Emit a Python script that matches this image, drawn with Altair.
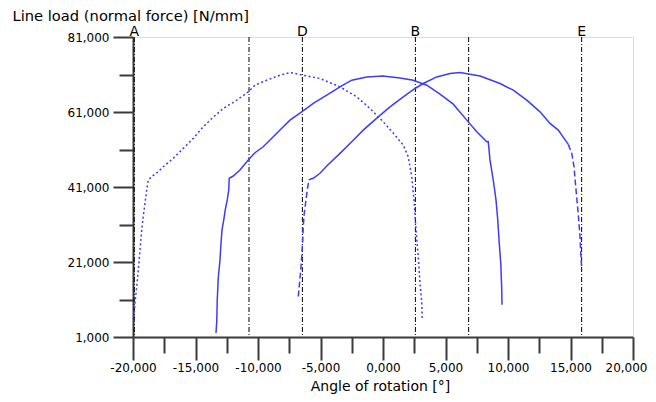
import altair as alt
import pandas as pd

# ---- Data ----
# Curve 1 (dotted)
DOT_X = [-19920, -19920, -19840, -19700, -19575, -19440, -19300, -19180, -19040, -18900,
         -18780, -18500, -18000, -17580, -16780, -15980, -15180, -14500, -13840, -12780,
         -11700, -10780, -10240, -9300, -8240, -7440, -6380, -5040, -3440, -2100,
         -1040, 20, 820, 1620, 2020, 2300, 2480, 2640, 2820, 2960, 3100, 3140]
DOT_Y = [5100, 6500, 10140, 14480, 18920, 24240, 29560, 33100, 36750, 40210,
         42870, 43800, 45000, 46410, 48640, 51300, 53960, 56630, 58830, 61950,
         64160, 66360, 68150, 69480, 70810, 71530, 70810, 69930, 67700, 65030,
         61950, 58380, 55370, 52180, 49070, 43750, 37550, 29560, 22460, 15460, 10140, 5610]

# Curve 2 (solid)
SOL_X = [-13360, -13300, -13260, -13180, -13040, -12960, -12880, -12740, -12620, -12460,
         -12340, -12300, -11980, -11440, -10780, -10240, -9580, -8780, -7980, -7440,
         -6500, -5580, -4500, -3440, -2500, -1300, -20, 1360, 2420, 3500,
         4560, 5620, 6700, 7500, 8300, 8420, 8560, 8820, 9040, 9180,
         9300, 9420, 9500, 9520]
SOL_Y = [2080, 5160, 10940, 16710, 21580, 26020, 29560, 32220, 34880, 37550,
         40210, 43320, 43930, 45530, 48190, 50130, 51730, 54390, 57050, 58830,
         61040, 63280, 65490, 67700, 69480, 70360, 70620, 70090, 69480, 68150,
         65750, 63090, 58830, 55720, 53060, 53110, 48190, 42870, 37550, 32220,
         26020, 20700, 13600, 9600]

# Curve 3 (dashed ends, solid arc)
RISE_X = [-6780, -6700, -6580, -6500, -6420, -6380, -6300, -6160, -6060, -5920, -5840]
RISE_Y = [11810, 14480, 18920, 22460, 26900, 30440, 34010, 37550, 40210, 42870, 43050]
ARC_X = [-5840, -5580, -5040, -4500, -3440, -2500, -1580, -380, 560, 1620,
         2560, 3220, 4300, 5360, 6160, 6960, 7760, 8300, 9360, 10420,
         11500, 12560, 13360, 14020, 14820]
ARC_Y = [43050, 43320, 44650, 46590, 49970, 53060, 56170, 59710, 62370, 65030,
         67270, 68600, 70360, 71260, 71530, 71070, 70620, 69930, 68600, 66820,
         64160, 61040, 57960, 56170, 52370]
FALL_X = [14820, 15100, 15280, 15420, 15540, 15660, 15760, 15820, 15900]
FALL_Y = [52370, 50050, 46410, 41090, 36670, 32220, 27780, 23360, 18920]

# Vertical reference lines
REF_X = [-19900, -10720, -6450, 2590, 6850, 15890]
REF_LABELS = ["A", "", "D", "B", "", "E"]

X_MAJOR = list(range(-20000, 20001, 5000))
X_MINOR = list(range(-17500, 20000, 5000))
Y_MAJOR = list(range(1000, 81001, 20000))
Y_MINOR = list(range(11000, 81000, 20000))


def frame(xs, ys):
    return pd.DataFrame({"angle": xs, "load": ys, "i": list(range(len(xs)))})


FONT = "DejaVu Sans"
BLUE = "#3c3cff"
AX = "#3a3a3a"

x_scale = alt.Scale(domain=[-20000, 20000], nice=False, zero=False)
y_scale = alt.Scale(domain=[1000, 81000], nice=False, zero=False)

x_major = alt.Axis(
    orient="bottom", values=X_MAJOR, grid=False,
    labelExpr="datum.value == 0 ? '0,000' : replace(format(datum.value, ','), '\u2212', '-')",
    labelOffset={"condition": {"test": "datum.value >= 20000", "value": -7}, "value": 0},
    tickSize=23, tickWidth=2, domainWidth=2, tickColor=AX, domainColor=AX,
    labelFont=FONT, labelFontSize=12, labelColor="black", labelPadding=2,
    labelFlush=False, labelOverlap=False,
    title="Angle of rotation [°]", titleFont=FONT, titleFontSize=14,
    titleFontWeight="normal", titleColor="black",
    titleX=247, titleY=53.5, titleBaseline="alphabetic",
)
x_minor = alt.Axis(
    orient="bottom", values=X_MINOR, grid=False, labels=False, domain=False, title=None,
    tickSize=16, tickWidth=2, tickColor=AX,
)

y_major = alt.Axis(
    orient="left", values=Y_MAJOR, grid=False,
    labelExpr="format(datum.value, ',')",
    tickSize=20, tickWidth=2, domainWidth=2, tickColor=AX, domainColor=AX,
    labelFont=FONT, labelFontSize=12, labelColor="black", labelPadding=4,
    labelFlush=False, labelOverlap=False, labelBaseline="middle",
    title="Line load (normal force) [N/mm]", titleFont=FONT, titleFontSize=14.7,
    titleFontWeight="normal", titleColor="black", titleAngle=0,
    titleAlign="left", titleBaseline="alphabetic", titleX=-121, titleY=-16.5,
)
y_minor = alt.Axis(
    orient="left", values=Y_MINOR, grid=False, labels=False, domain=False, title=None,
    tickSize=14, tickWidth=2, tickColor=AX,
)

ref_df = pd.DataFrame({"angle": REF_X, "label": REF_LABELS})

rules = alt.Chart(ref_df).mark_rule(color="black", strokeWidth=1, strokeDash=[5, 2, 1, 2]).encode(
    x=alt.X("angle:Q", scale=x_scale, axis=None)
)

labels = alt.Chart(ref_df).mark_text(font=FONT, fontSize=14, color="black",
                                      baseline="alphabetic", dy=-1.5).encode(
    x=alt.X("angle:Q", scale=x_scale, axis=None),
    y=alt.datum(81000, scale=y_scale, axis=None),
    text="label:N",
)

# invisible carrier for the minor-tick axes
minor = alt.Chart(frame(SOL_X, SOL_Y)).mark_line(opacity=0).encode(
    x=alt.X("angle:Q", scale=x_scale, axis=x_minor),
    y=alt.Y("load:Q", scale=y_scale, axis=y_minor),
    order="i:Q",
)


def curve(xs, ys, dash=None, xaxis=None, yaxis=None):
    kw = dict(color=BLUE, strokeWidth=1.5)
    if dash is not None:
        kw["strokeDash"] = dash
    return alt.Chart(frame(xs, ys)).mark_line(**kw).encode(
        x=alt.X("angle:Q", scale=x_scale, axis=xaxis),
        y=alt.Y("load:Q", scale=y_scale, axis=yaxis),
        order="i:Q",
    )


chart = alt.layer(
    minor,
    rules,
    curve(DOT_X, DOT_Y, [2, 2.5], x_major, y_major),
    curve(SOL_X, SOL_Y),
    curve(RISE_X, RISE_Y, [6, 3]),
    curve(ARC_X, ARC_Y),
    curve(FALL_X, FALL_Y, [6, 3]),
    labels,
).resolve_axis(x="independent", y="independent").properties(
    width=500, height=300,
    padding={"left": 125, "top": 29, "right": 15, "bottom": 57},
    autosize="none",
).configure_view(stroke=None).configure(background="white")

chart.save("out.html", embed_options={"renderer": "svg", "actions": False})
